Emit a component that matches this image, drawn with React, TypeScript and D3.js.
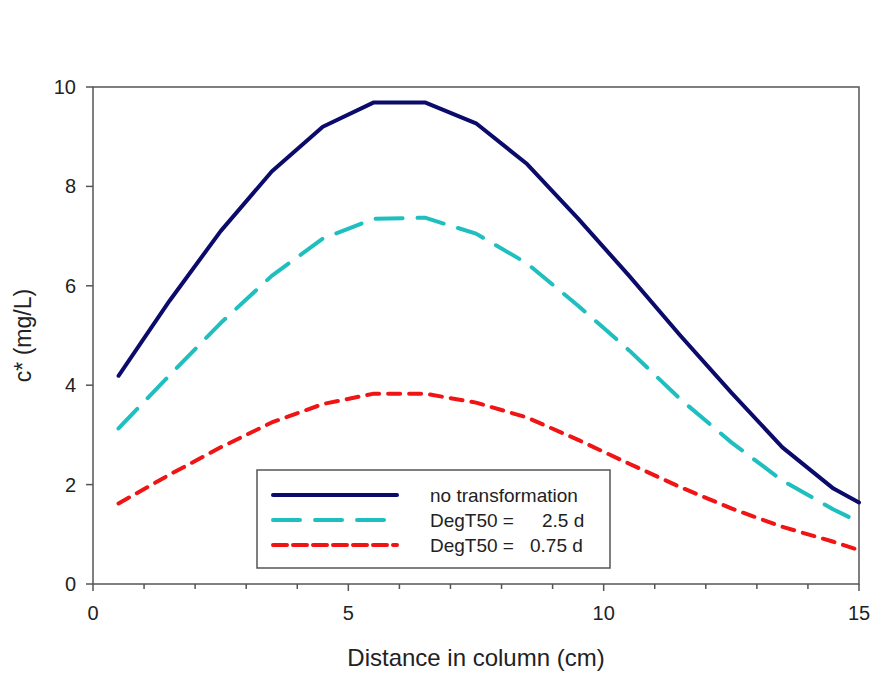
import React from "react";
import * as d3 from "d3";

// Distance along the column (cm)
const distance = [0.5, 1.5, 2.5, 3.5, 4.5, 5.5, 6.5, 7.5, 8.5, 9.5, 10.5, 11.5, 12.5, 13.5, 14.5, 15];

// Concentration c* (mg/L) per scenario
const noTransformation = [4.19, 5.7, 7.1, 8.3, 9.2, 9.69, 9.69, 9.27, 8.45, 7.35, 6.2, 5.0, 3.85, 2.75, 1.92, 1.64];
const degT50_2_5 = [3.13, 4.2, 5.25, 6.2, 6.95, 7.35, 7.37, 7.05, 6.45, 5.6, 4.7, 3.72, 2.85, 2.08, 1.5, 1.25];
const degT50_0_75 = [1.62, 2.2, 2.75, 3.25, 3.62, 3.83, 3.83, 3.65, 3.35, 2.9, 2.42, 1.95, 1.52, 1.15, 0.85, 0.68];

const xTicks = [0, 5, 10, 15];
const xMinorTicks = d3.range(0, 16, 1);
const yTicks = [0, 2, 4, 6, 8, 10];

const series = [
  { name: "no transformation", label: "no transformation", value: "", values: noTransformation, color: "#0b0b6b", dash: "none", legendDash: "none" },
  { name: "DegT50 2.5", label: "DegT50 =", value: "2.5 d", values: degT50_2_5, color: "#1fbfbf", dash: "27 15", legendDash: "27 15" },
  { name: "DegT50 0.75", label: "DegT50 =", value: "0.75 d", values: degT50_0_75, color: "#f01414", dash: "12 9", legendDash: "14 6" },
];
const legendValueX = [0, 542, 530];

const W = 892;
const H = 673;
const plot = { left: 93, right: 859, top: 87, bottom: 584 };
const font = "'Liberation Sans', Arial, sans-serif";
const axisColor = "#555";
const textColor = "#222";

export default function App() {
  const x = d3.scaleLinear().domain([0, 15]).range([plot.left, plot.right]);
  const y = d3.scaleLinear().domain([0, 10]).range([plot.bottom, plot.top]);

  const line = d3
    .line<[number, number]>()
    .x((d) => x(d[0]))
    .y((d) => y(d[1]))
    .curve(d3.curveLinear);

  const legend = { x: 257, y: 470, w: 353, h: 98 };
  const rowY = [495, 520, 545];

  return (
    <svg
      width={W}
      height={H}
      style={{ position: "fixed", left: 0, top: 0, background: "#fff" }}
      fontFamily={font}
    >
      <rect x={0} y={0} width={W} height={H} fill="#fff" />

      {/* plot frame */}
      <rect
        x={plot.left}
        y={plot.top}
        width={plot.right - plot.left}
        height={plot.bottom - plot.top}
        fill="none"
        stroke={axisColor}
        strokeWidth={1.5}
      />

      {/* y axis ticks and labels */}
      {yTicks.map((t) => (
        <g key={`y${t}`}>
          <line x1={plot.left - 7} x2={plot.left} y1={y(t)} y2={y(t)} stroke={axisColor} strokeWidth={1.5} />
          <text x={plot.left - 17} y={y(t)} dy="0.35em" textAnchor="end" fontSize={20} fill={textColor}>
            {t}
          </text>
        </g>
      ))}

      {/* x axis ticks and labels */}
      {xMinorTicks.map((t) => (
        <line
          key={`xm${t}`}
          x1={x(t)}
          x2={x(t)}
          y1={plot.bottom}
          y2={plot.bottom + (xTicks.includes(t) ? 7 : 5)}
          stroke={axisColor}
          strokeWidth={1.5}
        />
      ))}
      {xTicks.map((t) => (
        <text key={`x${t}`} x={x(t)} y={620} textAnchor="middle" fontSize={20} fill={textColor}>
          {t}
        </text>
      ))}

      {/* axis titles */}
      <text x={(plot.left + plot.right) / 2} y={666} textAnchor="middle" fontSize={24} fill={textColor}>
        Distance in column (cm)
      </text>
      <text
        transform={`translate(31, ${(plot.top + plot.bottom) / 2}) rotate(-90)`}
        textAnchor="middle"
        fontSize={23}
        fill={textColor}
      >
        c* (mg/L)
      </text>

      {/* data lines */}
      {series.map((s) => (
        <path
          key={s.name}
          d={line(distance.map((d, i) => [d, s.values[i]] as [number, number])) || ""}
          fill="none"
          stroke={s.color}
          strokeWidth={4}
          strokeDasharray={s.dash}
          strokeLinejoin="round"
          strokeLinecap="round"
        />
      ))}

      {/* legend */}
      <rect x={legend.x} y={legend.y} width={legend.w} height={legend.h} fill="#fff" stroke={axisColor} strokeWidth={1.5} />
      {series.map((s, i) => (
        <g key={`lg${s.name}`}>
          <line
            x1={273}
            x2={397}
            y1={rowY[i]}
            y2={rowY[i]}
            stroke={s.color}
            strokeWidth={4}
            strokeDasharray={s.legendDash}
            strokeLinecap="round"
          />
          <text x={430} y={rowY[i]} dy="0.35em" fontSize={19} fill={textColor}>
            {s.label}
          </text>
          {s.value && (
            <text x={legendValueX[i]} y={rowY[i]} dy="0.35em" fontSize={19} fill={textColor}>
              {s.value}
            </text>
          )}
        </g>
      ))}
    </svg>
  );
}
